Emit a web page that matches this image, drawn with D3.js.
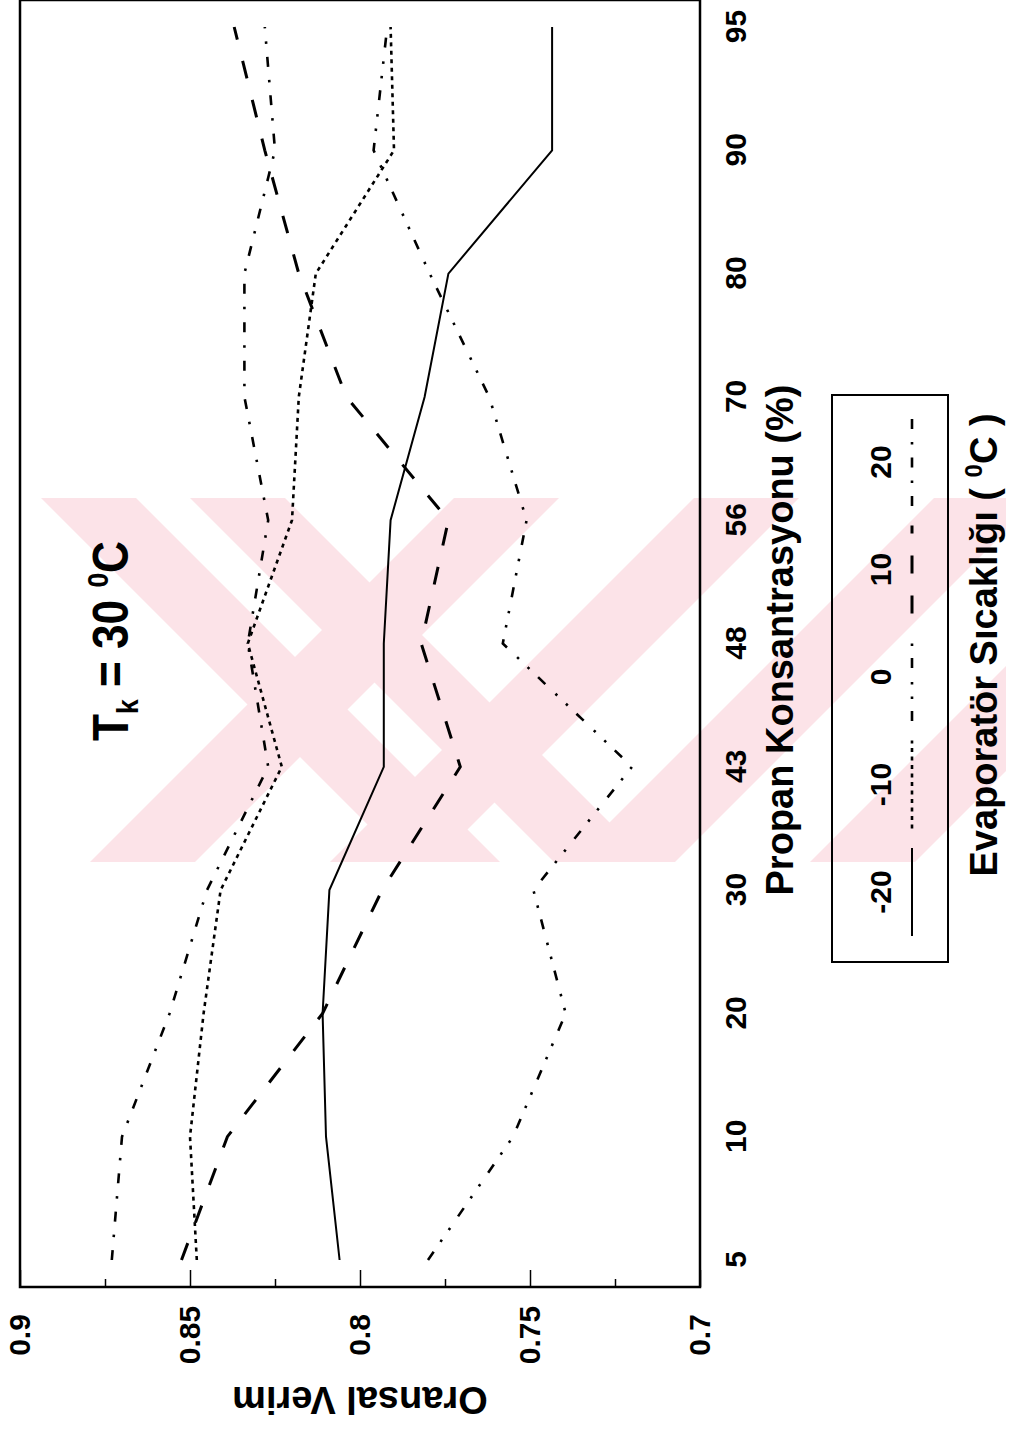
<!DOCTYPE html>
<html>
<head>
<meta charset="utf-8">
<script src="https://cdn.jsdelivr.net/npm/d3@7"></script>
<style>
body { margin: 0; background: #fff; }
svg { display: block; }
text { font-family: "Liberation Sans", Arial, sans-serif; font-weight: bold; fill: #000; }
</style>
</head>
<body>
<svg id="chart" width="1009" height="1432"></svg>
<script>
// Propan konsantrasyonu (%) - categories on the x axis
var categories = ["5", "10", "20", "30", "43", "48", "56", "70", "80", "90", "95"];
// evaporator temperatures (legend)
var evapTemps = ["-20", "-10", "0", "10", "20"];

// Oransal verim for each evaporator temperature
var verim_m20 = [0.806, 0.810, 0.811, 0.809, 0.793, 0.793, 0.791, 0.781, 0.774, 0.7435, 0.7435];
var verim_m10 = [0.848, 0.850, 0.846, 0.841, 0.823, 0.833, 0.820, 0.818, 0.813, 0.790, 0.791];
var verim_0   = [0.780, 0.755, 0.7395, 0.749, 0.720, 0.758, 0.751, 0.762, 0.7795, 0.796, 0.792];
var verim_10  = [0.8525, 0.839, 0.811, 0.7935, 0.7705, 0.782, 0.774, 0.804, 0.818, 0.828, 0.837];
var verim_20  = [0.873, 0.870, 0.856, 0.845, 0.827, 0.833, 0.827, 0.834, 0.834, 0.825, 0.828];

var yTicks = [0.7, 0.75, 0.8, 0.85, 0.9];
var yMinorTicks = [0.725, 0.775, 0.825, 0.875];

// line style per series
var dashes = { "-20": null, "-10": "4,4.5", "0": "10,12,2.5,12,2.5,14", "10": "18,22", "20": "10,13,2.5,13" };
var widths = { "-20": 2, "-10": 2.6, "0": 2.6, "10": 3, "20": 2.6 };

function draw_watermark(svg) {
    // faint pink stripes of the scanned page's watermark (page pixels)
    var y0 = 498, y1 = 862, h = y1 - y0;
    var clip = svg.append("clipPath").attr("id", "wmclip");
    clip.append("rect").attr("x", 41).attr("y", y0).attr("width", 965).attr("height", h);
    var wm = svg.append("g")
        .attr("fill", "#fce3e8")
        .attr("clip-path", "url(#wmclip)");
    // down-right stripes on the left part
    [41, 190].forEach(function (x0) {
        wm.append("path").attr("d", "M" + x0 + "," + y0 + " l95,0 l" + h + "," + h + " l-95,0 Z");
    });
    // up-right stripes
    [90, 330, 570, 810].forEach(function (x0) {
        wm.append("path").attr("d", "M" + x0 + "," + y1 + " l105,0 l" + h + "," + (-h) + " l-105,0 Z");
    });
}

function draw_chart() {
    var svg = d3.select("#chart");
    var H = 1432;

    draw_watermark(svg);

    // the page is a scan turned on its side: draw the chart upright, then rotate
    var g = svg.append("g")
        .attr("transform", "translate(0," + H + ") rotate(-90)");

    var plotL = 145, plotR = 1432, plotT = 20, plotB = 700;

    var series = [
        { temp: "-20", values: verim_m20 },
        { temp: "-10", values: verim_m10 },
        { temp: "0", values: verim_0 },
        { temp: "10", values: verim_10 },
        { temp: "20", values: verim_20 }
    ];

    var x = d3.scalePoint()
        .domain(categories)
        .range([172, 1405]);

    var y = d3.scaleLinear()
        .domain([0.7, 0.9])
        .range([plotB, plotT]);

    // y axis: major + minor ticks pointing inward
    var yAxis = g.append("g")
        .attr("transform", "translate(" + plotL + ",0)")
        .call(d3.axisLeft(y).tickValues(yTicks).tickSize(-17).tickPadding(0)
            .tickFormat(function (d) { return String(+d.toFixed(2)); }));
    yAxis.select(".domain").remove();
    yAxis.selectAll("line").attr("stroke", "#000").attr("stroke-width", 1.5);
    yAxis.selectAll("text")
        .attr("x", -48)
        .attr("text-anchor", "middle")
        .style("font-size", "30px");

    var yMinor = g.append("g")
        .attr("transform", "translate(" + plotL + ",0)")
        .call(d3.axisLeft(y).tickValues(yMinorTicks).tickSize(-8).tickFormat(""));
    yMinor.select(".domain").remove();
    yMinor.selectAll("line").attr("stroke", "#000").attr("stroke-width", 1.5);

    // x axis: category labels
    var xAxis = g.append("g")
        .attr("transform", "translate(0," + plotB + ")")
        .call(d3.axisBottom(x).tickSize(0).tickPadding(25));
    xAxis.select(".domain").remove();
    xAxis.selectAll("text").style("font-size", "30px");

    // frame
    g.append("rect")
        .attr("x", plotL)
        .attr("y", plotT)
        .attr("width", plotR - plotL)
        .attr("height", plotB - plotT)
        .attr("fill", "none")
        .attr("stroke", "#000")
        .attr("stroke-width", 2.5);

    // lines
    var line = d3.line()
        .x(function (d, i) { return x(categories[i]); })
        .y(function (d) { return y(d); });

    g.append("g")
        .selectAll("path")
        .data(series)
        .enter().append("path")
        .attr("d", function (d) { return line(d.values); })
        .attr("fill", "none")
        .attr("stroke", "#000")
        .attr("stroke-width", function (d) { return widths[d.temp]; })
        .attr("stroke-dasharray", function (d) { return dashes[d.temp]; });

    // title inside the plot
    var title = g.append("text")
        .attr("x", 791)
        .attr("y", 128)
        .attr("text-anchor", "middle")
        .attr("textLength", 200)
        .attr("lengthAdjust", "spacingAndGlyphs")
        .style("font-size", "50px");
    title.append("tspan").text("T");
    title.append("tspan").attr("dy", 10).style("font-size", "30px").text("k");
    title.append("tspan").attr("dy", -10).text(" = 30 ");
    title.append("tspan").attr("dy", -20).style("font-size", "30px").text("0");
    title.append("tspan").attr("dy", 20).text("C");

    // axis titles
    g.append("text")
        .attr("x", 792)
        .attr("y", 793)
        .attr("text-anchor", "middle")
        .style("font-size", "38px")
        .text("Propan Konsantrasyonu (%)");

    g.append("text")
        .attr("transform", "translate(45,360) rotate(-90)")
        .attr("text-anchor", "middle")
        .style("font-size", "38px")
        .text("Oransal Verim");

    var evap = g.append("text")
        .attr("x", 787)
        .attr("y", 997)
        .attr("text-anchor", "middle")
        .style("font-size", "38px");
    evap.append("tspan").text("Evaporatör Sıcaklığı ( ");
    evap.append("tspan").attr("dy", -15).style("font-size", "24px").text("0");
    evap.append("tspan").attr("dy", 15).text("C )");

    // legend
    var lx = d3.scalePoint().domain(evapTemps).range([540, 970]);

    g.append("rect")
        .attr("x", 470)
        .attr("y", 832)
        .attr("width", 567)
        .attr("height", 116)
        .attr("fill", "none")
        .attr("stroke", "#000")
        .attr("stroke-width", 2);

    var items = g.append("g").selectAll("g")
        .data(evapTemps)
        .enter().append("g")
        .attr("transform", function (d) { return "translate(" + lx(d) + ",0)"; });

    items.append("text")
        .attr("y", 891)
        .attr("text-anchor", "middle")
        .style("font-size", "30px")
        .text(function (d) { return d; });

    items.append("line")
        .attr("x1", -44)
        .attr("x2", 44)
        .attr("y1", 912)
        .attr("y2", 912)
        .attr("stroke", "#000")
        .attr("stroke-width", function (d) { return widths[d]; })
        .attr("stroke-dasharray", function (d) { return dashes[d]; });
}

draw_chart();
</script>
</body>
</html>
